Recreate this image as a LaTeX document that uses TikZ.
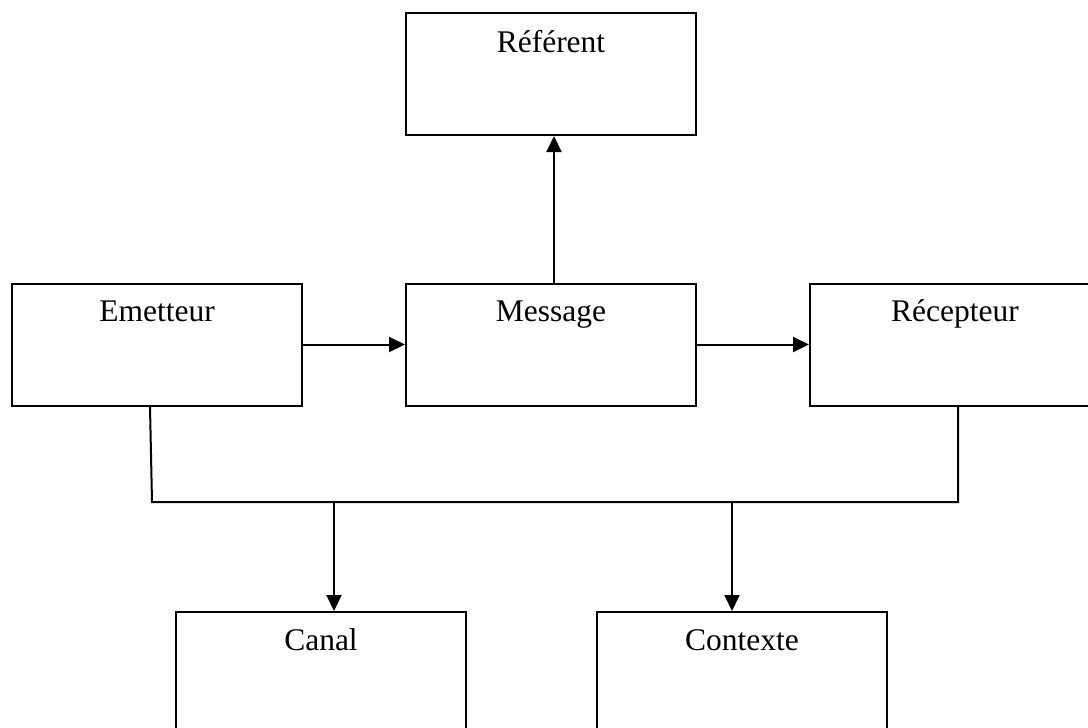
\documentclass[tikz,border=0pt]{standalone}
\usepackage{fontspec}
\setmainfont{Liberation Serif}
\usetikzlibrary{arrows.meta,calc}
\begin{document}
\begin{tikzpicture}[x=1pt,y=-1pt,
  box/.style={draw=black,line width=2pt,rectangle,minimum width=290pt,minimum height=122pt,inner sep=0pt},
  lbl/.style={anchor=base,font=\fontsize{31.5pt}{38pt}\selectfont,inner sep=0pt},
  conn/.style={draw=black,line width=2pt},
  arr/.style={conn,-{Triangle[length=16pt,width=15pt]}}]
\useasboundingbox (0,0) rectangle (1088,728);
\clip (0,0) rectangle (1088,728);
\node[box] (ref) at (551,74) {};
\node[box] (em) at (157,344.5) {};
\node[box] (msg) at (551,344.5) {};
\node[box] (rec) at (955,344.5) {};
\node[box] (can) at (321,673) {};
\node[box] (ctx) at (742,673) {};
\node[lbl] (reft) at ($(ref.north)+(0,40)$) {Référent};
\node[lbl] (emt) at ($(em.north)+(0,39)$) {Emetteur};
\node[lbl] (msgt) at ($(msg.north)+(0,39)$) {Message};
\node[lbl] (rect) at ($(rec.north)+(0,39)$) {Récepteur};
\node[lbl] (cant) at ($(can.north)+(0,39)$) {Canal};
\node[lbl] (ctxt) at ($(ctx.north)+(0,39)$) {Contexte};
\coordinate (j1) at (152,502);
\coordinate (j2) at (958,502);
\coordinate (c1) at (334,502);
\coordinate (c2) at (732,502);
\draw[arr] (em.east) -- (msg.west);
\draw[arr] (msg.east) -- (rec.west);
\draw[arr] ([xshift=3pt]msg.north) -- ([xshift=3pt]ref.south);
\draw[conn] ([xshift=-7pt]em.south) -- (j1) -- (j2) -- (j2 |- rec.south);
\draw[arr] (c1) -- (c1 |- can.north);
\draw[arr] (c2) -- (c2 |- ctx.north);
\end{tikzpicture}
\end{document}
